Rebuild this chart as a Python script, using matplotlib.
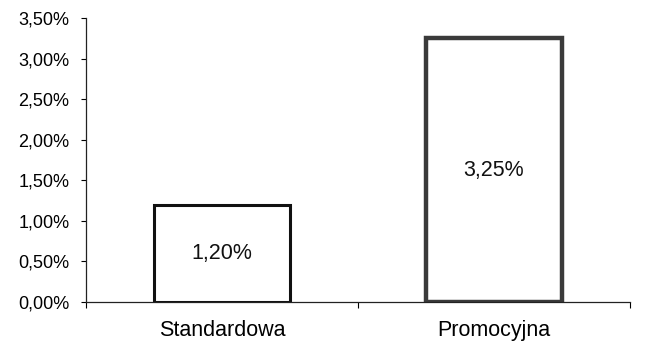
import matplotlib.pyplot as plt
from matplotlib.ticker import FuncFormatter, MultipleLocator

plt.rcParams['font.family'] = ['Liberation Sans', 'DejaVu Sans']

categories = ['Standardowa', 'Promocyjna']
values = [1.20, 3.25]
edge_colors = ['#111111', '#3a3a3a']
edge_widths = [2.2, 3.2]

fig = plt.figure(figsize=(6.46, 3.42), dpi=100)
ax = fig.add_axes([0.133, 0.117, 0.842, 0.830])

x = range(len(categories))
bars = ax.bar(x, values, width=0.5, color='white', linewidth=0)
for b, ec, lw in zip(bars, edge_colors, edge_widths):
    b.set_edgecolor(ec)
    b.set_linewidth(lw)

for i, v in enumerate(values):
    ax.text(i, v / 2, f'{v:.2f}%'.replace('.', ','), ha='center', va='center',
            fontsize=15.5, color='#111111')

ax.set_xlim(-0.5, len(categories) - 0.5)
ax.set_ylim(0, 3.5)
ax.yaxis.set_major_locator(MultipleLocator(0.5))
ax.yaxis.set_major_formatter(FuncFormatter(lambda v, p: f'{v:.2f}%'.replace('.', ',')))

ax.set_xticks(list(x))
ax.set_xticklabels(categories, fontsize=15.5)
ax.tick_params(axis='x', length=0, pad=13)
ax.set_xticks([-0.5, 0.5, 1.5], minor=True)
ax.tick_params(axis='x', which='minor', length=4, width=0.8, direction='out')
ax.tick_params(axis='y', length=3.8, width=0.8, direction='out', labelsize=13, pad=8)

for side in ['top', 'right']:
    ax.spines[side].set_visible(False)
for side in ['left', 'bottom']:
    ax.spines[side].set_color('#222222')
    ax.spines[side].set_linewidth(0.9)

fig.savefig('out.png', dpi=100)
